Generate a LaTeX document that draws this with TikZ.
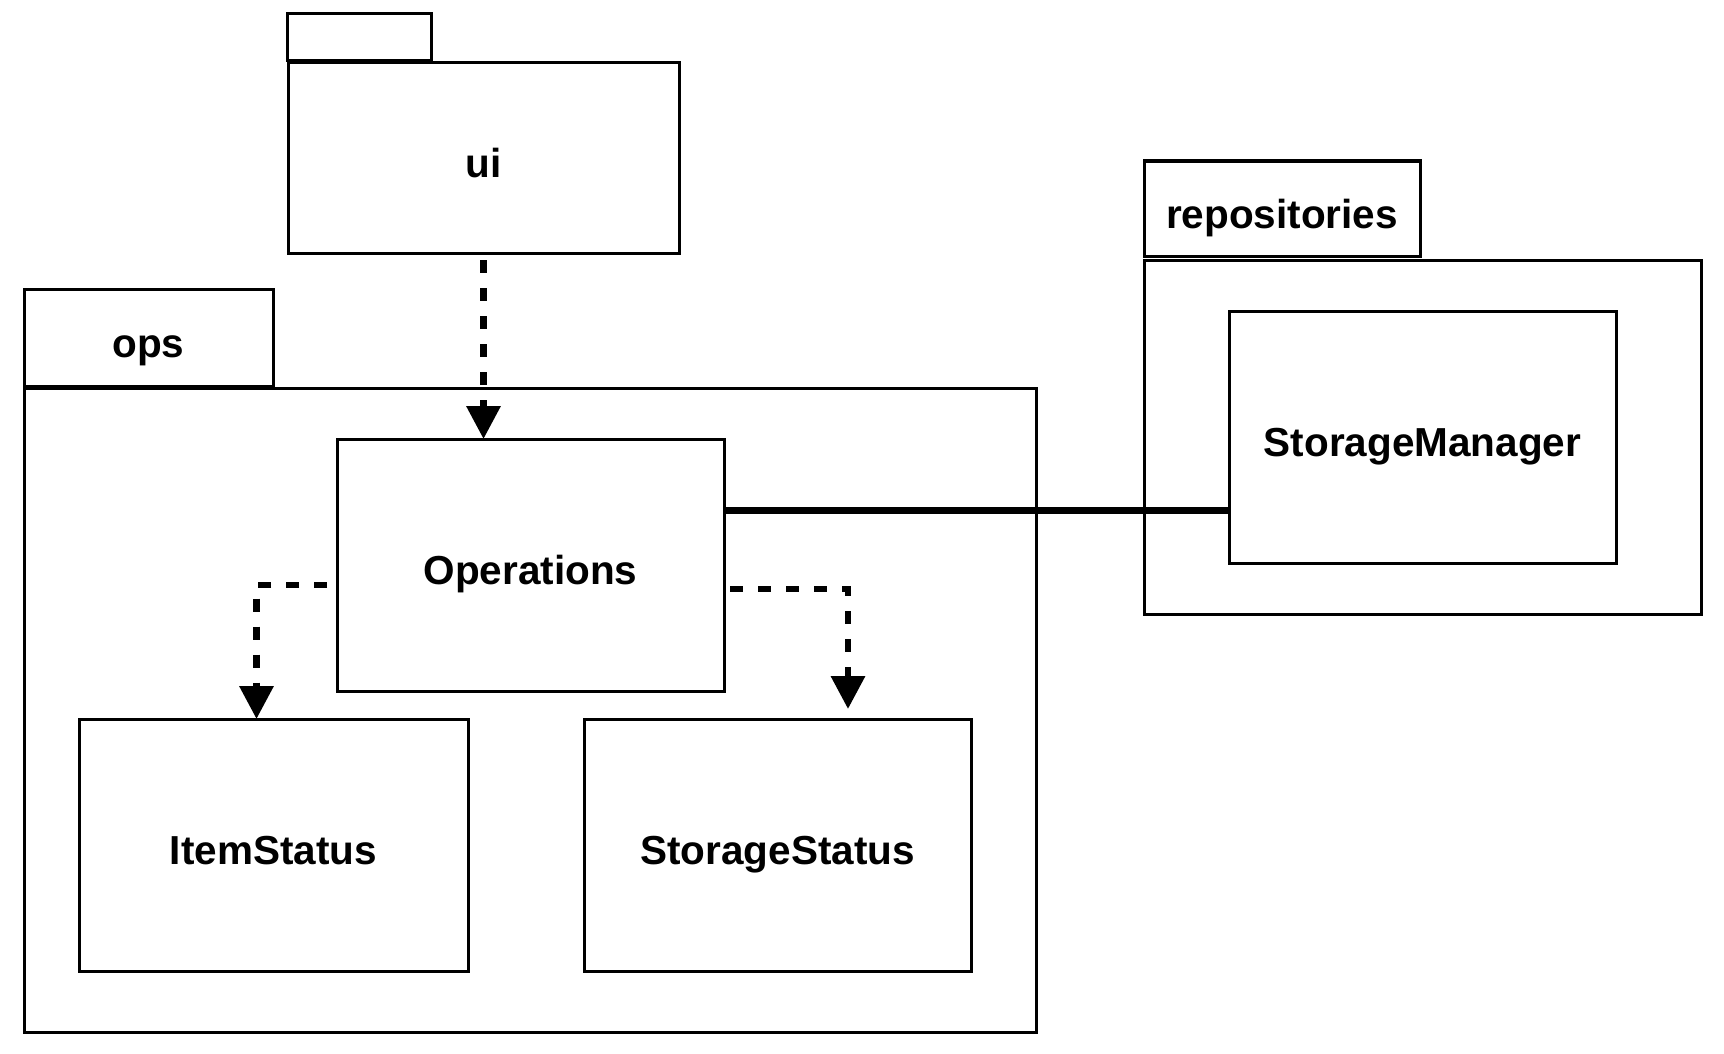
\documentclass[tikz,border=0pt]{standalone}
\usepackage{fontspec}
\setmainfont{Liberation Sans}
\usetikzlibrary{arrows.meta}
\begin{document}
\begin{tikzpicture}[x=1pt,y=-1pt,
  box/.style={draw, line width=3pt, inner sep=0pt, outer sep=0pt, fill=white,
    font=\fontsize{40.5}{48}\selectfont\bfseries, text height=39pt, text depth=0pt},
  dep/.style={line width=6.5pt, dash pattern=on 13pt off 15pt,
    -{Triangle[width=33pt,length=33pt]}},
  assoc/.style={line width=7pt},
]
\useasboundingbox (0,0) rectangle (1724,1054);
% packages
\node[box, minimum width=144pt, minimum height=47pt] (uiTab) at (359.5,37) {};
\node[box, minimum width=391pt, minimum height=190pt] (uiBody) at (483.5,158) {ui};
\node[box, minimum width=249pt, minimum height=97pt] (opsTab) at (148.5,337.5) {ops};
\node[box, minimum width=1012pt, minimum height=644pt] (opsBody) at (530,710) {};
\node[box, minimum width=276pt, minimum height=95pt] (repoTab) at (1282,208.5) {repositories};
\node[box, minimum width=557pt, minimum height=354pt] (repoBody) at (1422.5,437) {};
% classes
\node[box, minimum width=387pt, minimum height=252pt] (Operations) at (530.5,565) {Operations};
\node[box, minimum width=389pt, minimum height=252pt] (ItemStatus) at (273.5,845) {ItemStatus};
\node[box, minimum width=387pt, minimum height=252pt] (StorageStatus) at (777.5,845) {StorageStatus};
% association line
\coordinate (assocStart) at ([yshift=55pt]Operations.east);
\draw[assoc] (assocStart) -- (assocStart -| repoBody.west);
\node[box, minimum width=387pt, minimum height=252pt] (StorageManager) at (1422.5,437) {StorageManager};
\draw[assoc] (assocStart -| repoBody.west) -- (assocStart -| StorageManager.west);
% dependencies
\coordinate (uiStart) at ([yshift=-7pt]uiBody.south);
\draw[dep] (uiStart) -- (uiStart |- Operations.north);
\coordinate (leftStart) at ([xshift=-10pt,yshift=-20pt]Operations.west);
\draw[dep] (leftStart) -| ([xshift=-17pt]ItemStatus.north);
\coordinate (rightStart) at ([xshift=6pt,yshift=-24pt]Operations.east);
\draw[dep] (rightStart) -| ([xshift=70.5pt,yshift=10pt]StorageStatus.north);
\end{tikzpicture}
\end{document}
